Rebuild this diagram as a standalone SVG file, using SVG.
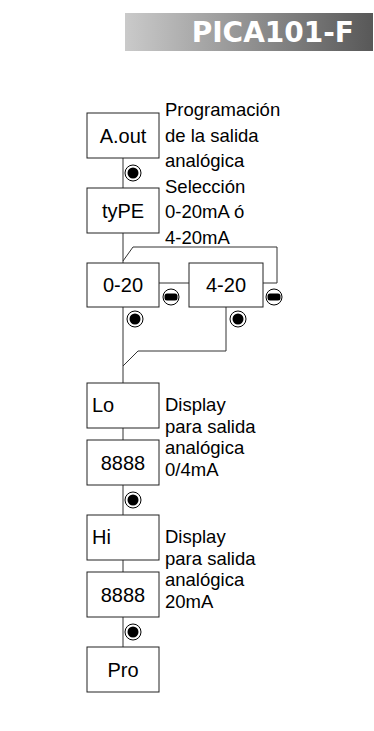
<svg xmlns="http://www.w3.org/2000/svg" width="374" height="731" viewBox="0 0 374 731">
<defs>
<linearGradient id="hg" x1="0" y1="0" x2="1" y2="0">
<stop offset="0" stop-color="#cacaca"/>
<stop offset="1" stop-color="#585858"/>
</linearGradient>
<g id="dot"><circle r="8" fill="#fff" stroke="#000" stroke-width="1"/><circle r="5.5" fill="#000"/></g>
<g id="minus"><circle r="8" fill="#fff" stroke="#000" stroke-width="1"/><rect x="-6.5" y="-3.5" width="13" height="7" rx="2.5" fill="#000"/></g>
</defs>
<style>
.box{fill:#fff;stroke:#222;stroke-width:1}
.t{font-family:"Liberation Sans",Arial,sans-serif;font-size:18.5px;fill:#000}
.b{font-family:"Liberation Sans",Arial,sans-serif;font-size:20px;fill:#000}
.c{text-anchor:middle}
.ln{fill:none;stroke:#333;stroke-width:1}
.hd{font-family:"DejaVu Sans",Verdana,sans-serif;font-weight:bold;font-size:28px;fill:#fff}
</style>
<rect x="125" y="13" width="248" height="38" fill="url(#hg)"/>
<text class="hd" x="354" y="42" text-anchor="end">PICA101-F</text>

<g id="connectors">
<path class="ln" d="M123 158V188M123 233V263M123 261L133 247H277V283H263M159 283H189M123 307V383M226 307V351H138L123 366M123 428V440M123 485V515M123 560V572M123 617V647"/>
</g>

<g id="aout"><rect class="box" x="87" y="113" width="72" height="45"/><text class="b c" x="123" y="142.5">A.out</text></g>
<use href="#dot" x="133" y="173"/>
<g id="type"><rect class="box" x="87" y="188" width="72" height="45"/><text class="b c" x="123" y="218">tyPE</text></g>
<g id="n020"><rect class="box" x="87" y="263" width="72" height="44"/><text class="b c" x="123" y="292">0-20</text></g>
<g id="n420"><rect class="box" x="189" y="263" width="74" height="44"/><text class="b c" x="226" y="292">4-20</text></g>
<use href="#minus" x="171" y="297"/>
<use href="#minus" x="274" y="297"/>
<use href="#dot" x="135" y="319"/>
<use href="#dot" x="238" y="319"/>
<g id="lo"><rect class="box" x="87" y="383" width="72" height="45"/><text class="b" x="92" y="412">Lo</text></g>
<g id="v1"><rect class="box" x="87" y="440" width="72" height="45"/><text class="b c" x="123" y="469.5">8888</text></g>
<use href="#dot" x="133" y="500"/>
<g id="hi"><rect class="box" x="87" y="515" width="72" height="45"/><text class="b" x="92" y="544">Hi</text></g>
<g id="v2"><rect class="box" x="87" y="572" width="72" height="45"/><text class="b c" x="123" y="601.5">8888</text></g>
<use href="#dot" x="133" y="632"/>
<g id="pro"><rect class="box" x="87" y="647" width="72" height="45"/><text class="b c" x="123" y="676.5">Pro</text></g>

<g id="desc">
<text class="t" x="165" y="116">Programación</text>
<text class="t" x="165" y="141.5">de la salida</text>
<text class="t" x="165" y="167">analógica</text>
<text class="t" x="165" y="192.5">Selección</text>
<text class="t" x="165" y="218">0-20mA ó</text>
<text class="t" x="165" y="243.5">4-20mA</text>
<text class="t" x="165" y="411">Display</text>
<text class="t" x="165" y="432.5">para salida</text>
<text class="t" x="165" y="454">analógica</text>
<text class="t" x="165" y="475.5">0/4mA</text>
<text class="t" x="165" y="543">Display</text>
<text class="t" x="165" y="564.5">para salida</text>
<text class="t" x="165" y="586">analógica</text>
<text class="t" x="165" y="607.5">20mA</text>
</g>
</svg>
